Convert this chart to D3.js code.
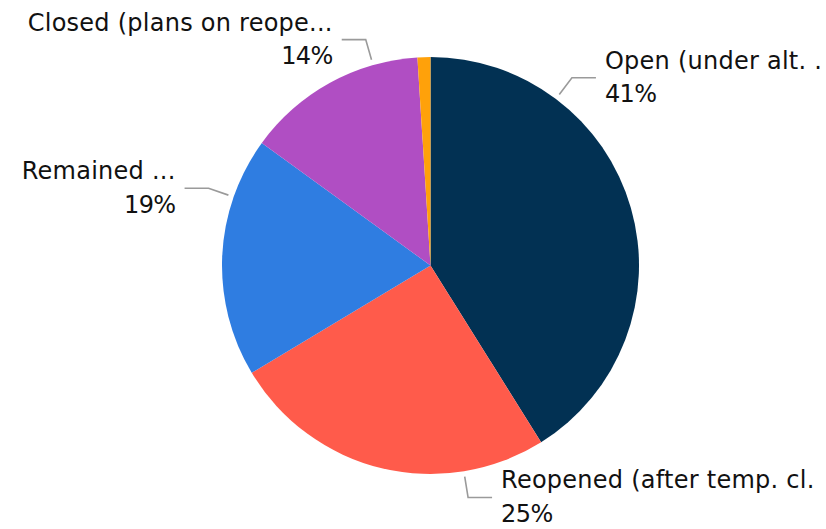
<!DOCTYPE html>
<html>
<head>
<meta charset="utf-8">
<script src="https://cdn.jsdelivr.net/npm/d3@7"></script>
<style>
  html, body { margin: 0; padding: 0; background: #fff; overflow: hidden; }
  svg { display: block; }
  text { font-family: "DejaVu Sans", Verdana, sans-serif; fill: #111; }
</style>
</head>
<body>
<svg id="chart" width="826" height="529"></svg>
<script>
// ---- data ----
const categories = [
  "Open (under alt. .",
  "Reopened (after temp. cl.",
  "Remained ...",
  "Closed (plans on reope...",
  "Other"
];
const values = [41.1, 25.3, 18.6, 14.0, 1.0];
const colors = ["#023153", "#FF5B4B", "#2F7DE1", "#B04EC3", "#FFA10A"];
const showLabel = [true, true, true, true, false];

// ---- layout ----
const W = 826, H = 529;
const cx = 430.5, cy = 265.5, R = 208.5;
// leader-line anchor angles (degrees, clockwise from 12 o'clock) as placed by the label layout
const labelAngles = [37, 170.8, 289.2, 344];

const svg = d3.select("#chart");
const g = svg.append("g").attr("transform", `translate(${cx},${cy})`);

const pie = d3.pie().sort(null).value(d => d.value);
const data = categories.map((c, i) => ({ name: c, value: values[i], color: colors[i], show: showLabel[i], ang: labelAngles[i] }));
const arcs = pie(data);
const arc = d3.arc().innerRadius(0).outerRadius(R);

g.selectAll("path.slice")
  .data(arcs)
  .join("path")
  .attr("class", "slice")
  .attr("d", arc)
  .attr("fill", d => d.data.color);

const total = d3.sum(values);
const fmt = v => Math.round(v / total * 100) + "%";

const r1 = R + 5.5, r2 = R + 26.5, hLen = 24, gap = 9;
const lbl = g.selectAll("g.lbl")
  .data(arcs.filter(d => d.data.show))
  .join("g")
  .attr("class", "lbl");

lbl.each(function(d) {
  const a = d.data.ang * Math.PI / 180;
  const p1 = [r1 * Math.sin(a), -r1 * Math.cos(a)];
  const p2 = [r2 * Math.sin(a), -r2 * Math.cos(a)];
  const right = Math.sin(a) >= 0;
  const p3 = [p2[0] + (right ? hLen : -hLen), p2[1]];
  const sel = d3.select(this);
  sel.append("path")
    .attr("d", d3.line()([p1, p2, p3]))
    .attr("fill", "none")
    .attr("stroke", "#9a9a9a")
    .attr("stroke-width", 1.6);
  const tx = p3[0] + (right ? gap : -gap);
  const t = sel.append("text")
    .attr("x", tx)
    .attr("text-anchor", right ? "start" : "end")
    .style("font-size", "24px")
    .style("letter-spacing", "0.25px");
  t.append("tspan").attr("x", tx).attr("y", p3[1] - 9).text(d.data.name);
  t.append("tspan").attr("x", tx).attr("y", p3[1] + 24.5).style("letter-spacing", "-0.6px").text(fmt(d.data.value));
});
</script>
</body>
</html>
